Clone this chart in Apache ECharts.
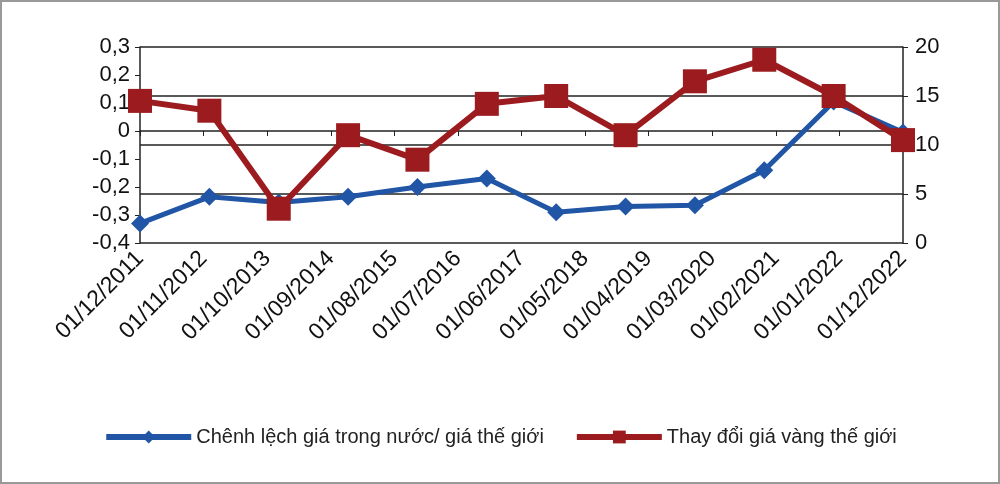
<!DOCTYPE html>
<html><head><meta charset="utf-8">
<script src="https://cdn.jsdelivr.net/npm/echarts@6/dist/echarts.min.js"></script>
<style>html,body{margin:0;padding:0;background:#fff}#c{width:1000px;height:484px;box-sizing:border-box;border:2px solid #999}</style>
</head><body><div id="c"></div>
<script>
const tickLabels=["01/12/2011","01/11/2012","01/10/2013","01/09/2014","01/08/2015","01/07/2016","01/06/2017","01/05/2018","01/04/2019","01/03/2020","01/02/2021","01/01/2022","01/12/2022"];
const pointIdx=["1","2","3","4","5","6","7","8","9","10","11","12"];
const spread=[-0.33,-0.235,-0.255,-0.235,-0.2,-0.17,-0.29,-0.27,-0.265,-0.14,0.105,-0.005];
const goldChange=[14.5,13.5,3.5,11,8.5,14.2,15,11,16.5,18.7,15,10.5];
const fmt=v=>(Math.round(v*10)/10).toString().replace('.',',');
const chart=echarts.init(document.getElementById('c'));
chart.setOption({
 animation:false,
 textStyle:{fontFamily:'Liberation Sans, Arial'},
 grid:{left:138,right:95,top:45,bottom:239},
 legend:{bottom:30,left:'center',itemWidth:85,itemHeight:16,itemGap:30,textStyle:{fontSize:20,color:'#222'},
  lineStyle:{width:6},
  data:['Chênh lệch giá trong nước/ giá thế giới','Thay đổi giá vàng thế giới']},
 xAxis:[
  {type:'category',data:tickLabels,boundaryGap:false,axisLine:{lineStyle:{color:'#222',width:1.5}},axisTick:{show:true,lineStyle:{color:'#222'}},
   axisLabel:{rotate:45,fontSize:23,color:'#111',interval:0,margin:12},splitLine:{show:false}},
  {type:'category',data:pointIdx,boundaryGap:false,show:false}
 ],
 yAxis:[
  {type:'value',min:-0.4,max:0.3,interval:0.1,axisLine:{show:true,lineStyle:{color:'#222',width:1.5}},axisTick:{show:true},
   axisLabel:{fontSize:22,color:'#111',formatter:fmt,margin:10},splitLine:{show:false}},
  {type:'value',min:0,max:20,interval:5,axisLine:{show:true,lineStyle:{color:'#222',width:1.5}},axisTick:{show:true},
   axisLabel:{fontSize:22,color:'#111',margin:12},splitLine:{show:true,lineStyle:{color:'#222',width:1.5}}}
 ],
 series:[
  {name:'Chênh lệch giá trong nước/ giá thế giới',type:'line',xAxisIndex:1,yAxisIndex:0,data:spread,
   symbol:'diamond',symbolSize:18,lineStyle:{width:5,color:'#2155a5'},itemStyle:{color:'#2155a5'}},
  {name:'Thay đổi giá vàng thế giới',type:'line',xAxisIndex:1,yAxisIndex:1,data:goldChange,
   symbol:'rect',symbolSize:24,lineStyle:{width:6,color:'#9b1b1f'},itemStyle:{color:'#9b1b1f'}}
 ]
});
</script></body></html>
